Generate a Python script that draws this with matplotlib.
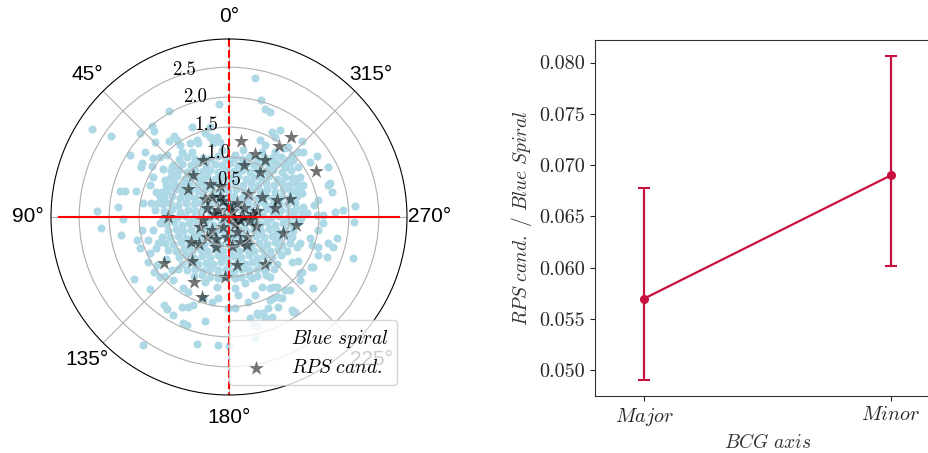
import numpy as np
import matplotlib
matplotlib.use('Agg')
import matplotlib.pyplot as plt

plt.rcParams['font.family'] = 'serif'
plt.rcParams['font.serif'] = ['cmr10']
plt.rcParams['mathtext.fontset'] = 'cm'
plt.rcParams['axes.formatter.use_mathtext'] = True
plt.rcParams['axes.unicode_minus'] = False

# offsets from the BCG (x to the right, y up), same units as the radial axis
blue_core = np.array([
    (-0.83, 0.97), (-0.70, 1.00), (-0.57, 0.96), (-0.44, 0.99), (-0.31, 0.97), (-0.19, 1.01), (-0.05, 0.96), (0.08, 0.99),
    (0.21, 0.97), (0.34, 1.00), (0.47, 0.96), (0.60, 0.99), (0.73, 0.97), (0.86, 1.00), (0.95, 0.95),
    (-0.93, 0.87), (-0.78, 0.89), (-0.64, 0.86), (-0.51, 0.90), (-0.38, 0.87), (-0.24, 0.89), (-0.12, 0.86), (0.02, 0.90),
    (0.15, 0.87), (0.28, 0.89), (0.41, 0.86), (0.54, 0.90), (0.67, 0.87), (0.80, 0.89), (0.92, 0.86), (1.02, 0.90),
    (-0.96, 0.76), (-0.84, 0.79), (-0.70, 0.75), (-0.57, 0.78), (-0.44, 0.76), (-0.31, 0.79), (-0.18, 0.75), (-0.05, 0.78),
    (0.09, 0.76), (0.22, 0.79), (0.35, 0.75), (0.48, 0.78), (0.61, 0.76), (0.74, 0.79), (0.88, 0.75), (1.03, 0.78),
    (-0.99, 0.65), (-0.86, 0.68), (-0.74, 0.64), (-0.62, 0.67), (-0.49, 0.65), (-0.36, 0.68), (-0.24, 0.64), (-0.11, 0.67),
    (0.02, 0.65), (0.15, 0.68), (0.28, 0.64), (0.41, 0.67), (0.54, 0.65), (0.67, 0.68), (0.80, 0.64), (0.93, 0.67), (1.08, 0.65),
    (-1.05, 0.54), (-0.92, 0.57), (-0.79, 0.53), (-0.67, 0.56), (-0.54, 0.54), (-0.42, 0.57), (-0.29, 0.53), (-0.16, 0.56),
    (-0.03, 0.54), (0.10, 0.57), (0.23, 0.53), (0.36, 0.56), (0.49, 0.54), (0.62, 0.57), (0.75, 0.53), (0.88, 0.56),
    (1.00, 0.54), (1.11, 0.57),
    (-1.03, 0.43), (-0.90, 0.46), (-0.78, 0.42), (-0.65, 0.45), (-0.52, 0.43), (-0.40, 0.46), (-0.27, 0.42), (-0.14, 0.45),
    (-0.01, 0.43), (0.12, 0.46), (0.25, 0.42), (0.38, 0.45), (0.51, 0.43), (0.64, 0.46), (0.77, 0.42), (0.90, 0.45),
    (1.03, 0.43), (1.13, 0.46),
    (-1.08, 0.32), (-0.95, 0.35), (-0.82, 0.31), (-0.69, 0.34), (-0.56, 0.32), (-0.43, 0.35), (-0.30, 0.31), (-0.17, 0.34),
    (-0.04, 0.32), (0.09, 0.35), (0.22, 0.31), (0.35, 0.34), (0.48, 0.32), (0.61, 0.35), (0.74, 0.31), (0.87, 0.34),
    (1.00, 0.32), (1.13, 0.35),
    (-1.10, 0.21), (-0.98, 0.24), (-0.85, 0.20), (-0.72, 0.23), (-0.59, 0.21), (-0.46, 0.24), (-0.33, 0.20), (-0.20, 0.23),
    (-0.07, 0.21), (0.06, 0.24), (0.19, 0.20), (0.32, 0.23), (0.45, 0.21), (0.58, 0.24), (0.71, 0.20), (0.84, 0.23),
    (0.97, 0.21), (1.10, 0.24),
    (-1.08, 0.10), (-0.95, 0.13), (-0.82, 0.09), (-0.69, 0.12), (-0.56, 0.10), (-0.43, 0.13), (-0.30, 0.09), (-0.17, 0.12),
    (-0.04, 0.10), (0.09, 0.13), (0.22, 0.09), (0.35, 0.12), (0.48, 0.10), (0.61, 0.13), (0.74, 0.09), (0.87, 0.12),
    (1.00, 0.10), (1.13, 0.13), (1.22, 0.09),
    (-1.10, -0.01), (-0.98, 0.02), (-0.86, -0.02), (-0.73, 0.01), (-0.60, -0.01), (-0.47, 0.02), (-0.34, -0.02), (-0.21, 0.01),
    (-0.08, -0.01), (0.05, 0.02), (0.18, -0.02), (0.31, 0.01), (0.44, -0.01), (0.57, 0.02), (0.70, -0.02), (0.83, 0.01),
    (0.96, -0.01), (1.09, 0.02), (1.20, -0.02),
    (-1.05, -0.12), (-0.92, -0.09), (-0.79, -0.13), (-0.66, -0.10), (-0.53, -0.12), (-0.40, -0.09), (-0.27, -0.13), (-0.14, -0.10),
    (-0.01, -0.12), (0.12, -0.09), (0.25, -0.13), (0.38, -0.10), (0.51, -0.12), (0.64, -0.09), (0.77, -0.13), (0.90, -0.10),
    (1.03, -0.12), (1.16, -0.09),
    (-1.02, -0.23), (-0.89, -0.20), (-0.76, -0.24), (-0.63, -0.21), (-0.50, -0.23), (-0.37, -0.20), (-0.24, -0.24), (-0.11, -0.21),
    (0.02, -0.23), (0.15, -0.20), (0.28, -0.24), (0.41, -0.21), (0.54, -0.23), (0.67, -0.20), (0.80, -0.24), (0.93, -0.21),
    (1.07, -0.23),
    (-0.98, -0.34), (-0.85, -0.31), (-0.72, -0.35), (-0.59, -0.32), (-0.46, -0.34), (-0.33, -0.31), (-0.20, -0.35), (-0.07, -0.32),
    (0.06, -0.34), (0.19, -0.31), (0.32, -0.35), (0.45, -0.32), (0.58, -0.34), (0.71, -0.31), (0.84, -0.35), (0.97, -0.32),
    (-0.93, -0.45), (-0.80, -0.42), (-0.67, -0.46), (-0.54, -0.43), (-0.41, -0.45), (-0.28, -0.42), (-0.15, -0.46), (-0.02, -0.43),
    (0.11, -0.45), (0.24, -0.42), (0.37, -0.46), (0.50, -0.43), (0.63, -0.45), (0.76, -0.42), (0.89, -0.46), (1.02, -0.43),
    (-0.88, -0.56), (-0.75, -0.53), (-0.62, -0.57), (-0.49, -0.54), (-0.36, -0.56), (-0.23, -0.53), (-0.10, -0.57), (0.03, -0.54),
    (0.16, -0.56), (0.29, -0.53), (0.42, -0.57), (0.55, -0.54), (0.68, -0.56), (0.81, -0.53), (0.96, -0.57),
    (-0.84, -0.67), (-0.71, -0.64), (-0.58, -0.68), (-0.45, -0.65), (-0.32, -0.67), (-0.19, -0.64), (-0.06, -0.68), (0.07, -0.65),
    (0.20, -0.67), (0.33, -0.64), (0.46, -0.68), (0.59, -0.65), (0.72, -0.67), (0.87, -0.64),
    (-0.78, -0.78), (-0.65, -0.75), (-0.52, -0.79), (-0.39, -0.76), (-0.26, -0.78), (-0.13, -0.75), (0.00, -0.79), (0.13, -0.76),
    (0.26, -0.78), (0.39, -0.75), (0.52, -0.79), (0.65, -0.76), (0.80, -0.78),
    (-0.70, -0.89), (-0.57, -0.86), (-0.44, -0.90), (-0.31, -0.87), (-0.18, -0.89), (-0.05, -0.86), (0.08, -0.90), (0.21, -0.87),
    (0.34, -0.89), (0.47, -0.86), (0.60, -0.90), (0.75, -0.87),
    (-0.58, -0.99), (-0.45, -0.96), (-0.32, -1.00), (-0.19, -0.97), (-0.06, -0.99), (0.07, -0.96), (0.20, -1.00), (0.33, -0.97),
    (0.46, -0.99), (0.62, -0.96),
])

blue_outer = np.array([
    (-2.28, 1.47), (-1.97, 1.35), (-1.65, 1.03), (-1.48, 1.40), (-1.28, 1.52), (-1.25, 1.43), (-1.23, 1.25), (-1.40, 1.08),
    (-1.00, 1.77), (-0.92, 1.35), (-1.00, 1.27), (-0.87, 1.28), (-0.78, 1.08), (-1.27, 0.98), (-1.03, 1.03), (-1.15, 1.00),
    (-0.82, 1.20), (-0.32, 1.50), (-0.53, 1.28), (-0.62, 1.08), (-0.20, 1.33),
    (0.43, 2.32), (-0.17, 1.88), (0.53, 1.95), (0.60, 1.80), (0.68, 1.75), (-0.62, 1.50), (-0.40, 1.40), (-0.32, 1.33),
    (-0.15, 1.25), (-0.27, 1.23), (-0.12, 1.12), (0.10, 1.03), (0.52, 1.28), (0.60, 1.20), (0.72, 1.42), (0.77, 1.33),
    (0.85, 1.45), (0.23, 1.12), (0.55, 1.08), (0.77, 1.08), (-0.65, 1.23), (-0.52, 1.23),
    (1.22, 1.27), (1.23, 1.08), (1.47, 1.02), (0.98, 1.17), (1.05, 1.03), (0.93, 1.15), (0.73, 1.00), (1.07, 0.95),
    (0.97, 0.83), (1.15, 1.08),
    (1.65, 0.83), (1.65, 0.53), (1.72, 0.42), (2.10, 0.18), (1.90, 0.12), (1.77, 0.08), (2.08, -0.08), (1.80, -0.35),
    (1.65, -0.43), (1.35, -0.35), (1.38, -0.47), (1.48, -0.50), (1.18, -0.43), (1.05, -0.33), (1.48, -0.22), (1.57, -0.10),
    (1.47, 0.03), (1.30, 0.07), (1.42, 0.20), (1.22, 0.40), (1.23, 0.53), (1.18, 0.67), (1.05, 0.65), (0.98, 0.87),
    (1.15, 0.83), (1.35, 0.92), (1.23, 0.17), (1.10, 0.12), (0.97, 0.50), (1.68, 0.57), (1.48, 0.28), (1.57, 0.03),
    (2.07, -0.68), (1.73, -0.50), (1.13, -0.50), (1.40, -0.83), (1.18, -0.93), (0.68, -1.00), (0.73, -1.17), (0.93, -1.22),
    (1.07, -1.58), (0.68, -1.38), (0.47, -1.60), (0.82, -1.33),
    (1.15, -0.73), (1.05, -0.75), (1.22, -0.92), (1.37, -0.83), (1.18, -1.05), (1.40, -1.18), (1.02, -1.22), (1.05, -1.55),
    (1.10, -1.58), (1.63, -0.67), (1.48, -0.63),
    (-0.53, -2.12), (-0.18, -2.13), (0.47, -1.82), (0.43, -2.02), (-0.40, -1.73), (-0.70, -1.80), (0.35, -1.68), (0.48, -1.63),
    (0.57, -1.60), (0.65, -1.52), (0.60, -1.68), (0.72, -1.67), (0.82, -1.50), (0.73, -1.35), (0.88, -1.35), (0.68, -1.18),
    (0.80, -1.17), (0.55, -1.17), (0.43, -1.30), (0.32, -1.42), (0.15, -1.30), (0.10, -1.18), (0.27, -1.10), (-0.18, -1.35),
    (-0.28, -1.42), (-0.02, -1.52), (0.10, -1.52), (-0.68, -1.50), (-0.60, -1.47), (-0.43, -1.35), (-0.68, -1.25), (-0.20, -1.17),
    (-0.40, -1.08), (0.10, -1.02), (-0.18, -1.02), (0.38, -1.02), (0.00, -2.15), (0.40, -1.80),
    (-1.58, -1.03), (-1.32, -1.20), (-1.08, -1.47), (-1.03, -1.53), (-0.93, -1.63), (-0.78, -1.50), (-0.77, -1.77), (-1.43, -2.13),
    (-1.15, -1.00), (-1.07, -0.98), (-0.93, -1.05), (-0.95, -0.88), (-0.85, -0.87), (-0.77, -1.18),
    (-2.20, 0.10), (-2.13, -0.18), (-1.85, 0.17), (-1.77, -0.03), (-1.80, -0.30), (-1.82, 0.43), (-1.73, 0.43), (-1.55, 0.43),
    (-1.45, 0.90), (-1.47, 0.83), (-1.28, 0.85), (-1.27, 0.67), (-1.32, 0.53), (-1.43, 0.23), (-1.30, 0.23), (-1.22, 0.42),
    (-1.12, 0.42), (-1.07, 0.62), (-0.93, 0.70), (-1.45, -0.22), (-1.35, -0.38), (-1.53, -0.38), (-1.27, -0.22), (-1.15, -0.10),
    (-1.12, -0.33), (-1.07, -0.43), (-1.22, -0.52), (-1.02, -0.55), (-1.15, 0.33), (-1.23, 0.12), (-1.18, 0.23), (-1.02, 0.50),
    (-0.95, 0.83), (-1.10, 0.80), (-0.85, 0.50), (-1.48, -0.52), (-1.32, -0.60), (-1.18, -0.43),
    (-1.35, -0.75), (-1.20, -0.80), (-1.05, -0.70), (-1.25, -0.92),
])

rps_xy = np.array([
    (1.03, 1.34), (0.84, 1.19), (0.20, 1.27), (0.43, 1.05), (1.46, 0.76), (0.25, 0.86), (0.51, 0.75), (-0.43, 0.95),
    (-0.60, 0.70), (-0.32, 0.55), (-0.68, 0.46), (-1.01, 0.00), (0.55, 0.34), (0.80, 0.28), (1.02, 0.30), (0.77, 0.15),
    (1.11, -0.13), (0.90, -0.26), (-0.64, -0.42), (-1.08, -0.76), (-0.61, -0.73), (0.13, -0.80), (0.60, -0.79), (-0.58, -1.08),
    (-0.06, -1.00), (-0.45, -1.33), (0.60, 0.95),
    (-0.15, 0.34), (-0.29, 0.34), (-0.10, 0.26), (0.13, 0.23), (-0.37, 0.15), (-0.18, 0.12), (0.07, 0.00), (0.18, -0.05),
    (0.24, 0.00), (0.35, -0.05), (-0.43, -0.05), (-0.48, -0.16), (-0.29, -0.22), (-0.10, -0.16), (0.13, -0.25), (0.30, -0.33),
    (-0.37, -0.33), (-0.21, -0.36), (-0.04, -0.33), (0.18, -0.41), (0.30, -0.47), (-0.15, 0.51), (0.40, 0.05), (0.05, 0.10),
    (0.00, 0.20), (0.25, 0.15), (-0.25, 0.05), (0.10, -0.12), (-0.08, 0.00), (0.45, -0.15), (-0.40, 0.30), (0.32, 0.38),
    (-0.50, -0.45), (0.05, -0.48), (0.47, 0.10), (-0.22, -0.50),
])

axis_labels = [r'$Major$', r'$Minor$']
frac = [0.0570, 0.0690]
frac_lo = [0.0079, 0.0088]
frac_hi = [0.0108, 0.0116]


def to_polar(xy):
    # position angle counted from north towards the left, and separation
    theta = np.arctan2(-xy[:, 0], xy[:, 1])
    r = np.hypot(xy[:, 0], xy[:, 1])
    return theta, r


blue_xy = np.vstack([blue_core, blue_outer])
th_b, r_b = to_polar(blue_xy)
th_s, r_s = to_polar(rps_xy)

fig = plt.figure(figsize=(9.29, 4.53), dpi=100)

ax = fig.add_axes([0.0549, 0.128, 0.3832, 0.786], projection='polar')
ax.set_theta_zero_location('N')
ax.scatter(th_b, r_b, s=34, c='lightblue', linewidths=0, label=r'$Blue\ spiral$')
ax.scatter(th_s, r_s, s=125, marker='*', c='k', alpha=0.55, linewidths=0, label=r'$RPS\ cand.$')

rmax = 2.97
ax.plot([np.pi / 2, np.pi / 2, 3 * np.pi / 2, 3 * np.pi / 2], [2.83, 0, 0, 2.83], color='red', lw=1.5)
ax.plot([0, 0, np.pi, np.pi], [rmax, 0, 0, rmax], color='red', lw=1.5, ls='--')

ax.set_ylim(0, rmax)
ax.set_rgrids([0.5, 1.0, 1.5, 2.0, 2.5], labels=['0.5', '1.0', '1.5', '2.0', '2.5'], fontsize=13.5)
angles = np.arange(0, 360, 45)
ax.set_thetagrids(angles, labels=[f'{a}°' for a in angles], fontfamily='Liberation Sans', fontsize=15)
ax.tick_params(axis='x', pad=6)
ax.grid(color='#b0b0b0', lw=0.8)

leg = ax.legend(loc='lower right', fontsize=14)
leg.legend_handles[0].set_visible(False)

ax2 = fig.add_axes([0.6405, 0.1258, 0.3714, 0.786])
x = np.arange(len(frac))
ax2.errorbar(x, frac, yerr=[frac_lo, frac_hi], color='#c8103e', marker='o', ms=5.5,
             lw=1.6, elinewidth=1.6, capsize=4, capthick=1.5)
ax2.set_xlim(-0.2, 1.2)
ax2.set_ylim(0.0475, 0.0822)
ax2.set_xticks(x)
ax2.set_xticklabels(axis_labels)
ax2.set_yticks([0.050, 0.055, 0.060, 0.065, 0.070, 0.075, 0.080])
ax2.set_yticklabels(['0.050', '0.055', '0.060', '0.065', '0.070', '0.075', '0.080'])
ax2.tick_params(labelsize=14.5, colors='#262626')
for sp in ax2.spines.values():
    sp.set_color('#333333')
ax2.set_xlabel(r'$BCG\ axis$', fontsize=14, color='#333333')
ax2.set_ylabel(r'$RPS\ cand.\ /\ Blue\ Spiral$', fontsize=14, color='#333333')

fig.savefig('out.png', dpi=100)
